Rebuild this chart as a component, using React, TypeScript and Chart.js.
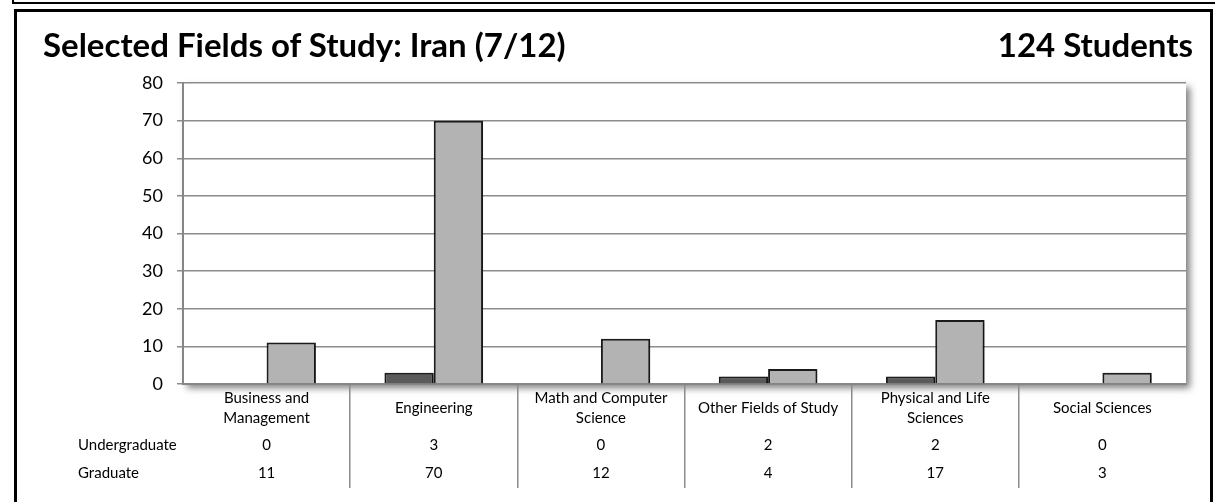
import React, { useEffect, useRef } from "react";
import { Chart, registerables } from "chart.js";

Chart.register(...registerables);

// ---- data ----
const categoryLines: string[][] = [
  ["Business and", "Management"],
  ["Engineering"],
  ["Math and Computer", "Science"],
  ["Other Fields of Study"],
  ["Physical and Life", "Sciences"],
  ["Social Sciences"],
];
const categories = categoryLines.map((l) => l.join(" "));
const seriesNames = ["Undergraduate", "Graduate"];
const undergraduate = [0, 3, 0, 2, 2, 0];
const graduate = [11, 70, 12, 4, 17, 3];
const yMin = 0;
const yMax = 80;
const yStep = 10;
const titleText = "Selected Fields of Study: Iran (7/12)";
const totalText = "124 Students";

const FONT = "Lato, 'Open Sans', sans-serif";

const chartPlugin = {
  id: "excelLook",
  beforeDraw(chart: any) {
    const { ctx, chartArea: a } = chart;
    ctx.save();
    ctx.shadowColor = "rgba(0,0,0,0.5)";
    ctx.shadowBlur = 7;
    ctx.shadowOffsetX = 4;
    ctx.shadowOffsetY = 4;
    ctx.fillStyle = "#ffffff";
    ctx.fillRect(a.left, a.top, a.right - a.left, a.bottom - a.top);
    ctx.restore();
  },
  beforeDatasetsDraw(chart: any) {
    const { ctx } = chart;
    ctx.save();
    ctx.shadowColor = "rgba(0,0,0,0.3)";
    ctx.shadowBlur = 3;
    ctx.shadowOffsetX = 2;
    ctx.shadowOffsetY = 1;
  },
  afterDatasetsDraw(chart: any) {
    chart.ctx.restore();
  },
  afterDraw(chart: any) {
    const { ctx, chartArea: a } = chart;
    const xs = chart.scales.x;
    const b = a.bottom;
    ctx.save();
    ctx.fillStyle = "#000000";
    ctx.font = `15px ${FONT}`;
    ctx.textBaseline = "middle";
    ctx.textAlign = "center";
    categoryLines.forEach((lines, i) => {
      const cx = xs.getPixelForValue(i);
      const ys = lines.length === 2 ? [b + 14, b + 34] : [b + 24];
      lines.forEach((t, j) => ctx.fillText(t, cx, ys[j]));
      ctx.fillText(String(undergraduate[i]), cx, b + 61);
      ctx.fillText(String(graduate[i]), cx, b + 89);
    });
    ctx.textAlign = "left";
    ctx.fillText(seriesNames[0], 78, b + 61);
    ctx.fillText(seriesNames[1], 78, b + 89);
    ctx.restore();
  },
};

export default function App() {
  const canvasRef = useRef<HTMLCanvasElement | null>(null);

  useEffect(() => {
    const canvas = canvasRef.current;
    if (!canvas) return;
    const chart = new Chart(canvas, {
      type: "bar",
      data: {
        labels: categories,
        datasets: [
          {
            label: seriesNames[0],
            data: undergraduate,
            backgroundColor: "#5a5a5a",
            borderColor: "#1c1c1c",
            borderWidth: 2,
            categoryPercentage: 0.59,
            barPercentage: 1,
          },
          {
            label: seriesNames[1],
            data: graduate,
            backgroundColor: "#b3b3b3",
            borderColor: "#1c1c1c",
            borderWidth: 2,
            categoryPercentage: 0.59,
            barPercentage: 1,
          },
        ],
      },
      options: {
        animation: false,
        responsive: false,
        maintainAspectRatio: false,
        devicePixelRatio: 1,
        layout: { padding: { left: 0, right: 29, top: 83, bottom: 14 } },
        plugins: {
          legend: { display: false },
          tooltip: { enabled: false },
          title: { display: false },
        },
        scales: {
          x: {
            offset: true,
            ticks: { display: false },
            grid: {
              offset: true,
              drawOnChartArea: false,
              drawTicks: true,
              tickLength: 104,
              lineWidth: 1.5,
              color: (ctx: any) =>
                ctx.index === undefined || ctx.index === 0 ? "rgba(0,0,0,0)" : "#8c8c8c",
            },
            border: { display: true, color: "#868686", width: 2 },
          },
          y: {
            min: yMin,
            max: yMax,
            ticks: {
              stepSize: yStep,
              color: "#000000",
              padding: 14,
              font: { family: FONT, size: 18 },
            },
            grid: {
              color: "#8c8c8c",
              lineWidth: 1.5,
              tickLength: 6,
              drawTicks: true,
            },
            border: { display: true, color: "#868686", width: 2 },
            afterFit(scale: any) {
              scale.width = 183;
            },
          },
        },
      },
      plugins: [chartPlugin],
    } as any);
    return () => chart.destroy();
  }, []);

  return (
    <div
      style={{
        position: "fixed",
        left: 0,
        top: 0,
        width: 1215,
        height: 502,
        overflow: "hidden",
        background: "#ffffff",
      }}
    >
      <div
        style={{
          position: "absolute",
          left: 12,
          top: -20,
          width: 1220,
          height: 24,
          boxSizing: "border-box",
          border: "2px solid #000",
        }}
      />
      <div
        style={{
          position: "absolute",
          left: 14,
          top: 9,
          width: 1199,
          height: 540,
          boxSizing: "border-box",
          border: "3px solid #000",
        }}
      />
      <canvas
        ref={canvasRef}
        width={1215}
        height={502}
        style={{ position: "absolute", left: 0, top: 0, width: 1215, height: 502 }}
      />
      <div
        style={{
          position: "absolute",
          left: 43,
          top: 28,
          fontFamily: FONT,
          fontWeight: 700,
          fontSize: 33,
          lineHeight: "33px",
          whiteSpace: "nowrap",
          color: "#000",
        }}
      >
        {titleText}
      </div>
      <div
        style={{
          position: "absolute",
          right: 1215 - 1193,
          top: 28,
          fontFamily: FONT,
          fontWeight: 700,
          fontSize: 33,
          lineHeight: "33px",
          whiteSpace: "nowrap",
          color: "#000",
          textAlign: "right",
        }}
      >
        {totalText}
      </div>
    </div>
  );
}
